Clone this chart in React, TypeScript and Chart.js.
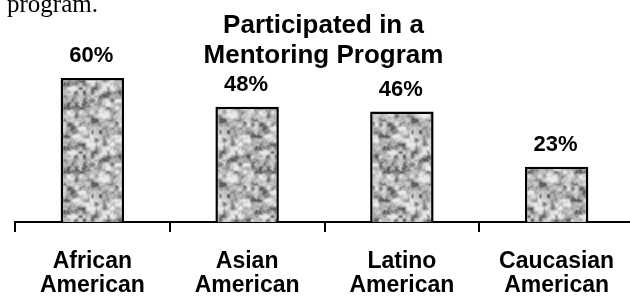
import React, { useEffect, useRef } from "react";
import { Chart, registerables } from "chart.js";

Chart.register(...registerables);

const categories: string[][] = [
  ["African", "American"],
  ["Asian", "American"],
  ["Latino", "American"],
  ["Caucasian", "American"],
];
const participated: number[] = [60, 48, 46, 23];
const titleLines: string[] = ["Participated in a", "Mentoring Program"];
const valueSuffix = "%";

const SANS = "'Liberation Sans', Arial, Helvetica, sans-serif";

function makeGranite(): CanvasPattern | string {
  const size = 64;
  const c = document.createElement("canvas");
  c.width = size;
  c.height = size;
  const g = c.getContext("2d");
  if (!g) return "#b8b8b8";
  let s = 424242;
  const rnd = () => {
    s = (s * 1103515245 + 12345) & 0x7fffffff;
    return s / 0x7fffffff;
  };
  const mkGrid = (n: number) => {
    const a: number[] = [];
    for (let i = 0; i < n * n; i++) a.push(rnd());
    return a;
  };
  const sm = (t: number) => t * t * (3 - 2 * t);
  const sample = (grid: number[], n: number, x: number, y: number) => {
    const cell = size / n;
    const gx = x / cell;
    const gy = y / cell;
    const x0 = Math.floor(gx);
    const y0 = Math.floor(gy);
    const tx = sm(gx - x0);
    const ty = sm(gy - y0);
    const at = (i: number, j: number) => grid[((j % n) + n) % n * n + ((i % n) + n) % n];
    const a = at(x0, y0) * (1 - tx) + at(x0 + 1, y0) * tx;
    const b = at(x0, y0 + 1) * (1 - tx) + at(x0 + 1, y0 + 1) * tx;
    return a * (1 - ty) + b * ty;
  };
  const g1 = mkGrid(16);
  const g2 = mkGrid(8);
  const g3 = mkGrid(32);
  const img = g.createImageData(size, size);
  for (let y = 0; y < size; y++) {
    for (let x = 0; x < size; x++) {
      let v = 0.5 * sample(g1, 16, x, y) + 0.3 * sample(g2, 8, x, y) + 0.2 * sample(g3, 32, x, y);
      v = Math.max(0, Math.min(1, (v - 0.5) * 1.9 + 0.5));
      const gray = 95 + 140 * Math.pow(v, 0.75);
      const i = (y * size + x) * 4;
      img.data[i] = gray;
      img.data[i + 1] = gray;
      img.data[i + 2] = gray;
      img.data[i + 3] = 255;
    }
  }
  g.putImageData(img, 0, 0);
  return g.createPattern(c, "repeat") || "#b8b8b8";
}

const titlePlugin = {
  id: "overlayTitle",
  afterDraw(chart: any) {
    const { ctx, chartArea } = chart;
    ctx.save();
    ctx.fillStyle = "#000";
    ctx.font = `bold 26px ${SANS}`;
    ctx.textAlign = "center";
    ctx.textBaseline = "alphabetic";
    const cx = (chartArea.left + chartArea.right) / 2 - 1;
    titleLines.forEach((t, i) => ctx.fillText(t, cx, 33 + i * 30));
    ctx.restore();
  },
};

const valueLabelPlugin = {
  id: "valueLabels",
  afterDatasetsDraw(chart: any) {
    const { ctx } = chart;
    const meta = chart.getDatasetMeta(0);
    ctx.save();
    ctx.fillStyle = "#000";
    ctx.font = `bold 22px ${SANS}`;
    ctx.textAlign = "center";
    ctx.textBaseline = "alphabetic";
    meta.data.forEach((bar: any, i: number) => {
      const v = chart.data.datasets[0].data[i];
      ctx.fillText(`${v}${valueSuffix}`, bar.x - 1, bar.y - 16);
    });
    ctx.restore();
  },
};

export default function App() {
  const ref = useRef<HTMLCanvasElement | null>(null);

  useEffect(() => {
    if (!ref.current) return;
    const pattern = makeGranite();
    const chart = new Chart(ref.current, {
      type: "bar",
      data: {
        labels: categories,
        datasets: [
          {
            data: participated,
            backgroundColor: pattern as any,
            borderColor: "#000",
            borderWidth: 2.5,
            borderSkipped: "start",
            categoryPercentage: 1,
            barPercentage: 0.41,
          },
        ],
      },
      options: {
        responsive: false,
        animation: false,
        devicePixelRatio: 1,
        layout: { padding: { top: 6, left: 15, right: 6, bottom: 0 } },
        plugins: {
          legend: { display: false },
          title: { display: false },
          tooltip: { enabled: false },
        },
        scales: {
          x: {
            z: 1,
            offset: true,
            grid: {
              offset: true,
              drawOnChartArea: false,
              drawTicks: true,
              tickLength: 10,
              color: "#000",
              lineWidth: 2,
            },
            border: { display: true, color: "#000", width: 2 },
            ticks: {
              color: "#000",
              padding: 18,
              maxRotation: 0,
              autoSkip: false,
              font: { family: SANS, size: 23, weight: "bold", lineHeight: "24px" } as any,
            },
          },
          y: {
            display: false,
            min: 0,
            max: 90,
          },
        },
      },
      plugins: [titlePlugin, valueLabelPlugin],
    });
    return () => chart.destroy();
  }, []);

  return (
    <div
      style={{
        position: "fixed",
        left: 0,
        top: 0,
        width: 630,
        height: 298,
        overflow: "hidden",
        background: "#fff",
      }}
    >
      <span
        style={{
          position: "absolute",
          left: 7,
          top: -9,
          fontFamily: "'Liberation Serif', 'Times New Roman', serif",
          fontSize: 25,
          lineHeight: "25px",
          color: "#000",
          whiteSpace: "nowrap",
          zIndex: 2,
        }}
      >
        program.
      </span>
      <canvas
        ref={ref}
        width={640}
        height={316}
        style={{ position: "absolute", left: 0, top: 0, width: 640, height: 316 }}
      />
    </div>
  );
}
